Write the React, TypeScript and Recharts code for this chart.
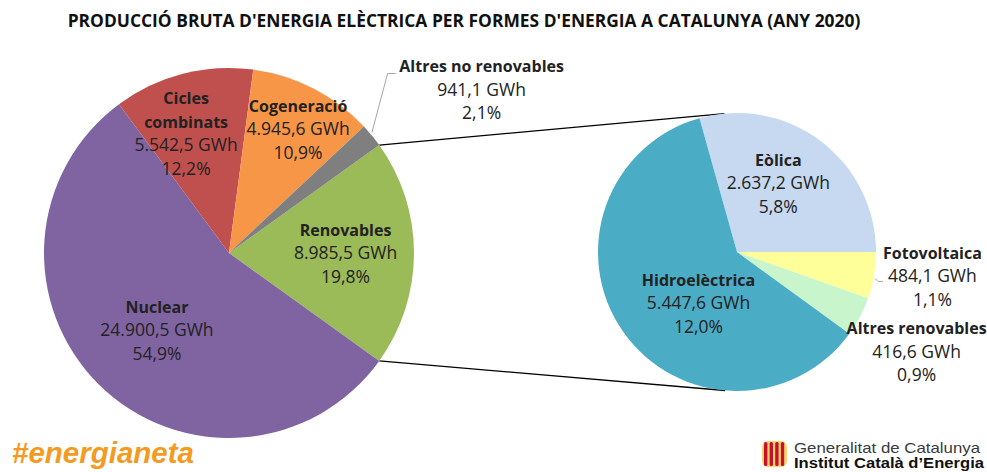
import { Cell, Customized, Pie, PieChart } from "recharts";

// Producció bruta (GWh), Catalunya 2020
const MAIN_NAMES = ["Renovables", "Nuclear", "Cicles combinats", "Cogeneració", "Altres no renovables"];
const MAIN_VALUES = [8985.5, 24900.5, 5542.5, 4945.6, 941.1];
const MAIN_COLORS = ["#9BBB59", "#8064A2", "#C0504D", "#F79646", "#7F7F7F"];

// desglossament de les renovables
const RENOV_NAMES = ["Eòlica", "Fotovoltaica", "Altres renovables", "Hidroelèctrica"];
const RENOV_VALUES = [2637.2, 484.1, 416.6, 5447.6];
const RENOV_COLORS = ["#C6D9F1", "#FFFF99", "#C8F5CC", "#4BACC6"];

const TITLE = "PRODUCCIÓ BRUTA D'ENERGIA ELÈCTRICA PER FORMES D'ENERGIA A CATALUNYA (ANY 2020)";

const NAME_LINES: Record<string, string[]> = {
  "Cicles combinats": ["Cicles", "combinats"],
};

const MAIN = { cx: 229, cy: 253, r: 185 };
const SUB = { cx: 737, cy: 252, r: 139 };
const FONT = "'Open Sans', sans-serif";
const TEXT = "#222";
const LINE_H = 23.5;
const RAD = Math.PI / 180;

type Placement = { r: number; dx: number; dy: number; leader?: "elbow" | "tick" };

const MAIN_PLACE: Record<string, Placement> = {
  Renovables: { r: 0.63, dx: 0, dy: 0 },
  Nuclear: { r: 0.57, dx: 2, dy: 2 },
  "Cicles combinats": { r: 0.69, dx: -11, dy: 4 },
  Cogeneració: { r: 0.77, dx: 4, dy: 3 },
  "Altres no renovables": { r: 1.6, dx: 24, dy: 25, leader: "elbow" },
};

const SUB_PLACE: Record<string, Placement> = {
  Eòlica: { r: 0.575, dx: -7, dy: -5 },
  Fotovoltaica: { r: 1.2, dx: 31, dy: -4, leader: "tick" },
  "Altres renovables": { r: 1.2, dx: 32, dy: 22 },
  Hidroelèctrica: { r: 0.46, dx: 14, dy: 15 },
};

const mainData = MAIN_NAMES.map((name, i) => ({ name, value: MAIN_VALUES[i] }));
const subData = RENOV_NAMES.map((name, i) => ({ name, value: RENOV_VALUES[i] }));
const total = MAIN_VALUES.reduce((a, b) => a + b, 0);
const renovTotal = RENOV_VALUES.reduce((a, b) => a + b, 0);

// Renovables centrat a les 3, sentit horari
const mainStart = (180 * MAIN_VALUES[0]) / total;
// Eòlica acaba a les 3
const subStart = (360 * RENOV_VALUES[0]) / renovTotal;

const gwhFmt = new Intl.NumberFormat("de-DE", {
  minimumFractionDigits: 1,
  maximumFractionDigits: 1,
});
const fmtPct = (v: number) => ((v / total) * 100).toFixed(1).replace(".", ",") + "%";

const polar = (cx: number, cy: number, r: number, deg: number) => ({
  x: cx + r * Math.cos(-deg * RAD),
  y: cy + r * Math.sin(-deg * RAD),
});

function makeLabel(place: Record<string, Placement>) {
  return (props: any) => {
    const { cx, cy, midAngle, outerRadius, name, value } = props;
    const p = place[name];
    const c = polar(cx, cy, outerRadius * p.r, midAngle);
    const x = c.x + p.dx;
    const y = c.y + p.dy;
    const names = NAME_LINES[name] ?? [name];
    const lines = [
      ...names.map((t) => ({ t, bold: true })),
      { t: `${gwhFmt.format(value)} GWh`, bold: false },
      { t: fmtPct(value), bold: false },
    ];
    const y0 = y - ((lines.length - 1) * LINE_H) / 2;
    let leader = null;
    if (p.leader === "elbow") {
      const e = polar(cx, cy, outerRadius, midAngle);
      const ly = y0 + 7;
      leader = (
        <polyline
          points={`${e.x},${e.y - 3} ${x - 94},${ly} ${x - 86},${ly}`}
          fill="none"
          stroke="#A6A6A6"
          strokeWidth={1}
        />
      );
    } else if (p.leader === "tick") {
      const e = polar(cx, cy, outerRadius, midAngle);
      leader = (
        <polyline
          points={`${e.x + 1},${e.y + 3} ${e.x + 4},${e.y + 6} ${e.x + 9},${e.y + 6}`}
          fill="none"
          stroke="#A6A6A6"
          strokeWidth={1}
        />
      );
    }
    return (
      <g>
        {leader}
        <text x={x} textAnchor="middle" fontFamily={FONT} fill={TEXT}>
          {lines.map((l, i) => (
            <tspan
              key={i}
              x={x}
              y={y0 + i * LINE_H + 6}
              fontWeight={l.bold ? 700 : 400}
              fontSize={l.bold ? 16 : 17.5}
            >
              {l.t}
            </tspan>
          ))}
        </text>
      </g>
    );
  };
}

function tangent(px: number, py: number, upper: boolean) {
  const dx = px - SUB.cx;
  const dy = py - SUB.cy;
  const d = Math.hypot(dx, dy);
  const phi = Math.atan2(dy, dx);
  const a = Math.acos(SUB.r / d);
  const t = upper ? phi + a : phi - a;
  return { x: SUB.cx + SUB.r * Math.cos(t), y: SUB.cy + SUB.r * Math.sin(t) };
}

function Overlay() {
  const top = polar(MAIN.cx, MAIN.cy, MAIN.r, mainStart);
  const bot = polar(MAIN.cx, MAIN.cy, MAIN.r, -mainStart);
  const tTop = tangent(top.x, top.y, true);
  const tBot = tangent(bot.x, bot.y, false);
  const bars = [0, 1, 2, 3];
  return (
    <g>
      <line x1={top.x} y1={top.y} x2={tTop.x} y2={tTop.y} stroke="#000" strokeWidth={1.3} />
      <line x1={bot.x} y1={bot.y} x2={tBot.x} y2={tBot.y} stroke="#000" strokeWidth={1.3} />
      <text x={464} y={27} textAnchor="middle" fontFamily={FONT} fontWeight={700} fontSize={17.4} fill="#111">
        {TITLE}
      </text>
      <text
        x={12}
        y={463}
        fontFamily="'Liberation Sans', Arial, sans-serif"
        fontWeight={700}
        fontStyle="italic"
        fontSize={29.5}
        fill="#F39A21"
      >
        #energianeta
      </text>
      <g>
        <rect x={762} y={441} width={25} height={26} rx={6} fill="#F5D76E" />
        {bars.map((b) => (
          <rect key={b} x={764 + b * 5.6} y={442} width={3.4} height={24} rx={1.5} fill="#C8102E" />
        ))}
      </g>
      <text
        x={794}
        y={453}
        textLength={186}
        lengthAdjust="spacingAndGlyphs"
        fontFamily="'Liberation Sans', Arial, sans-serif"
        fontSize={14.5}
        fill="#3A3A3A"
      >
        Generalitat de Catalunya
      </text>
      <text
        x={794}
        y={468}
        textLength={190}
        lengthAdjust="spacingAndGlyphs"
        fontFamily="'Liberation Sans', Arial, sans-serif"
        fontWeight={700}
        fontSize={14.5}
        fill="#111"
      >
        Institut Català d’Energia
      </text>
    </g>
  );
}

export default function App() {
  return (
    <div style={{ position: "absolute", left: 0, top: 0, width: 987, height: 472, background: "#fff" }}>
      <PieChart width={987} height={472} margin={{ top: 0, right: 0, bottom: 0, left: 0 }}>
        <Pie
          data={mainData}
          dataKey="value"
          nameKey="name"
          cx={MAIN.cx}
          cy={MAIN.cy}
          outerRadius={MAIN.r}
          startAngle={mainStart}
          endAngle={mainStart - 360}
          stroke="none"
          label={makeLabel(MAIN_PLACE)}
          labelLine={false}
          isAnimationActive={false}
        >
          {mainData.map((d, i) => (
            <Cell key={d.name} fill={MAIN_COLORS[i]} />
          ))}
        </Pie>
        <Pie
          data={subData}
          dataKey="value"
          nameKey="name"
          cx={SUB.cx}
          cy={SUB.cy}
          outerRadius={SUB.r}
          startAngle={subStart}
          endAngle={subStart - 360}
          stroke="none"
          label={makeLabel(SUB_PLACE)}
          labelLine={false}
          isAnimationActive={false}
        >
          {subData.map((d, i) => (
            <Cell key={d.name} fill={RENOV_COLORS[i]} />
          ))}
        </Pie>
        <Customized component={Overlay} />
      </PieChart>
    </div>
  );
}
